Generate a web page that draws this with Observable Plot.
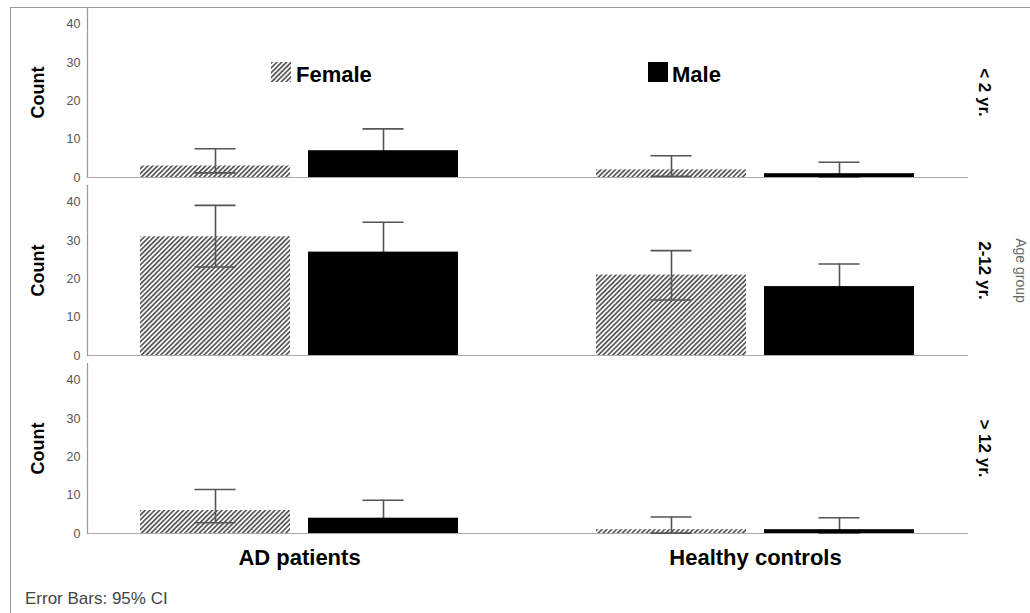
<!DOCTYPE html>
<html>
<head>
<meta charset="utf-8">
<script src="https://cdn.jsdelivr.net/npm/d3@7"></script>
<script src="https://cdn.jsdelivr.net/npm/@observablehq/plot@0.6"></script>
<style>
  body { margin: 0; background: #fff; }
  #wrap { position: relative; width: 1030px; height: 613px; overflow: hidden; font-family: "Liberation Sans", Arial, sans-serif; }
  .bl { position: absolute; background: #9a9a9a; }
  .leg { position: absolute; font-weight: bold; font-size: 22px; line-height: 22px; color: #000; }
  .sw { position: absolute; width: 20px; height: 20px; }
  #cap { position: absolute; left: 25px; top: 590px; font-size: 17px; line-height: 17px; color: #444; }
  #chart { position: absolute; left: 0; top: 0; }
</style>
</head>
<body>
<svg width="0" height="0" style="position:absolute">
  <defs>
    <pattern id="hatch" width="3.4" height="3.4" patternUnits="userSpaceOnUse" patternTransform="rotate(45)">
      <rect width="3.4" height="3.4" fill="#fff"></rect>
      <line x1="0.9" y1="-1" x2="0.9" y2="5" stroke="#555" stroke-width="1.7"></line>
    </pattern>
  </defs>
</svg>
<div id="wrap">
  <div id="chart"></div>
  <div class="bl" style="left:10px;top:7px;width:1020px;height:1px"></div>
  <div class="bl" style="left:10px;top:7px;width:1px;height:606px"></div>
  <svg class="sw" style="left:271px;top:62px" width="20" height="20"><rect width="20" height="20" fill="url(#hatch)"></rect></svg>
  <div class="leg" style="left:296px;top:64px">Female</div>
  <svg class="sw" style="left:648px;top:62px" width="20" height="20"><rect width="20" height="20" fill="#000"></rect></svg>
  <div class="leg" style="left:672px;top:64px">Male</div>
  <div id="cap">Error Bars: 95% CI</div>
</div>
<script>
const groups = ["AD patients", "Healthy controls"];
const sexes = ["Female", "Male"];
const ageGroups = ["< 2 yr.", "2-12 yr.", "> 12 yr."];
const yTicks = [0, 10, 20, 30, 40];

// rows: age groups; columns: groups
const femaleCounts = [[3, 2], [31, 21], [6, 1]];
const maleCounts   = [[7, 1], [27, 18], [4, 1]];
const femaleLo = [[1.2, 0.3], [23.1, 14.5], [2.8, 0.1]];
const femaleHi = [[7.5, 5.7], [39.2, 27.4], [11.5, 4.3]];
const maleLo   = [[2.5, 0.1], [19.5, 12.5], [1.2, 0.1]];
const maleHi   = [[12.7, 4.0], [34.8, 23.9], [8.7, 4.1]];

const data = [];
ageGroups.forEach((age, i) => groups.forEach((group, j) => {
  data.push({age, group, sex: sexes[0], count: femaleCounts[i][j], lo: femaleLo[i][j], hi: femaleHi[i][j]});
  data.push({age, group, sex: sexes[1], count: maleCounts[i][j], lo: maleLo[i][j], hi: maleHi[i][j]});
}));
const female = data.filter(d => d.sex === "Female");
const male = data.filter(d => d.sex === "Male");

const eb = {stroke: "#555", strokeWidth: 1.6};

const chart = Plot.plot({
  width: 1030,
  height: 580,
  marginTop: 7,
  marginLeft: 87,
  marginRight: 62,
  marginBottom: 47,
  style: {fontFamily: "Liberation Sans, Arial, sans-serif", color: "#000", background: "transparent", overflow: "visible"},
  x: {domain: groups, paddingInner: 0.302, paddingOuter: 0.117, label: null},
  y: {domain: [0, 44.4], label: null},
  fy: {domain: ageGroups, paddingInner: 0.045, paddingOuter: 0, axis: null, label: null},
  marks: [
    Plot.ruleY([0], {stroke: "#aaa", strokeWidth: 1.2}),
    Plot.barY(female, {x: "group", y: "count", fy: "age", fill: "url(#hatch)", insetRight: 168}),
    Plot.ruleX(male, {x: "group", y1: "lo", y2: "hi", fy: "age", dx: 84, ...eb}),
    Plot.tickY(male, {x: "group", y: "hi", fy: "age", insetLeft: 222.5, insetRight: 54.5, ...eb}),
    Plot.tickY(male, {x: "group", y: "lo", fy: "age", insetLeft: 222.5, insetRight: 54.5, ...eb}),
    Plot.barY(male, {x: "group", y: "count", fy: "age", fill: "#000", insetLeft: 168}),
    Plot.ruleX(female, {x: "group", y1: "lo", y2: "hi", fy: "age", dx: -84, ...eb}),
    Plot.tickY(female, {x: "group", y: "hi", fy: "age", insetLeft: 54.5, insetRight: 222.5, ...eb}),
    Plot.tickY(female, {x: "group", y: "lo", fy: "age", insetLeft: 54.5, insetRight: 222.5, ...eb}),
    Plot.frame({anchor: "left", stroke: "#9a9a9a", strokeWidth: 1.2}),
    Plot.axisY({ticks: yTicks, tickSize: 0, tickPadding: 7, fontSize: 12.5, fill: "#555", label: null}),
    Plot.axisX({tickSize: 0, tickPadding: 16, fontSize: 22, fontWeight: "bold", fill: "#000", label: null}),
    Plot.text(ageGroups, {fy: d => d, text: () => "Count", frameAnchor: "left", textAnchor: "middle", dx: -49, rotate: -90, fontSize: 18, fontWeight: "bold", fill: "#000"}),
    Plot.text(ageGroups, {fy: d => d, text: d => d, frameAnchor: "right", textAnchor: "middle", dx: 16, rotate: 90, fontSize: 17, fontWeight: "bold", fill: "#000"}),
    Plot.text([ageGroups[1]], {fy: d => d, text: () => "Age group", frameAnchor: "right", textAnchor: "middle", dx: 52, rotate: 90, fontSize: 14, fill: "#666"})
  ]
});
document.getElementById("chart").appendChild(chart);
</script>
</body>
</html>
